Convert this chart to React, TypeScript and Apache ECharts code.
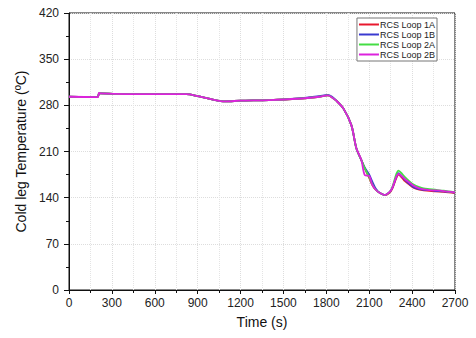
import React, { useEffect, useRef } from "react";
import * as echarts from "echarts";

const times = [0, 200, 210, 220, 400, 600, 820, 900, 1000, 1090, 1200, 1400, 1600, 1750, 1810, 1840, 1870, 1920, 1975, 2010, 2045, 2070, 2100, 2120, 2145, 2175, 2210, 2240, 2260, 2290, 2305, 2330, 2350, 2380, 2410, 2450, 2480, 2520, 2560, 2620, 2700];

const loop1A = [293, 292.5, 298, 298, 297, 297, 297, 294, 289, 286, 287, 288, 290, 293, 295, 292, 287, 275, 250, 215, 197, 184, 170, 160, 152, 147, 144, 147, 153, 170, 175, 170, 165, 160, 155, 152, 151, 150.5, 149.5, 149, 147];
const loop1B = [293, 292.5, 298, 298, 297, 297, 297, 294, 289, 286, 287, 288, 290.5, 294, 296, 293, 287, 275, 250, 215, 197, 185, 175, 165, 154, 147, 144, 148, 154, 172, 177, 172, 167, 161, 156, 153, 152, 151.5, 150.5, 149.5, 147.5];
const loop2A = [293, 292.5, 298, 298, 297, 297, 297, 294, 289, 286, 287, 288, 290, 293, 295, 292, 287, 275, 250, 215, 197, 184, 171, 161, 152, 147, 144, 148, 155, 176, 181, 176, 171, 165, 160, 156, 154, 153, 152, 150.5, 148];
const loop2B = [293, 292.5, 299, 298, 297, 297, 297, 294, 289, 286, 287, 288, 290, 293, 295, 292, 287, 275, 250, 215, 197, 174, 173, 160, 152, 147, 144, 148, 154, 172, 176, 172, 168, 163, 158, 154, 152.5, 151.5, 151, 150, 148];

const seriesNames = ["RCS Loop 1A", "RCS Loop 1B", "RCS Loop 2A", "RCS Loop 2B"];
const seriesValues = [loop1A, loop1B, loop2A, loop2B];
const seriesColors = ["#e8182e", "#3a3ad0", "#44dd44", "#dd22dd"];

export default function App() {
  const ref = useRef<HTMLDivElement>(null);
  useEffect(() => {
    if (!ref.current) return;
    const chart = echarts.init(ref.current, undefined, { renderer: "svg" });
    const font = "'Liberation Sans', Arial, sans-serif";
    chart.setOption({
      animation: false,
      backgroundColor: "#fff",
      textStyle: { fontFamily: font },
      grid: { left: 69, right: 21, top: 13, bottom: 48, show: true, borderColor: "#111", borderWidth: 1, backgroundColor: "transparent" },
      legend: {
        orient: "vertical",
        right: 39,
        top: 18,
        itemWidth: 20,
        itemHeight: 2,
        itemGap: 1,
        padding: [2, 2, 2, 2],
        borderColor: "#777",
        borderWidth: 1,
        backgroundColor: "#fff",
        icon: "rect",
        textStyle: { fontSize: 9, lineHeight: 9, color: "#222", padding: [0, 0, 0, -4], fontFamily: font },
        data: seriesNames,
      },
      xAxis: {
        type: "value",
        min: 0,
        max: 2700,
        interval: 300,
        name: "Time (s)",
        nameLocation: "middle",
        nameGap: 25,
        nameTextStyle: { fontSize: 14, color: "#111" },
        axisLine: { lineStyle: { color: "#111" } },
        axisTick: { show: true, inside: false, length: 4, lineStyle: { color: "#111" } },
        minorTick: { show: true, splitNumber: 2, length: 3, lineStyle: { color: "#111" } },
        axisLabel: { fontSize: 12, color: "#222", margin: 7, formatter: (v: number) => String(v) },
        splitLine: { show: true, lineStyle: { color: "#ddd", type: "dotted" } },
        minorSplitLine: { show: true, lineStyle: { color: "#e4e4e4", type: "dotted" } },
      },
      yAxis: {
        type: "value",
        min: 0,
        max: 420,
        interval: 70,
        name: "Cold leg Temperature (ºC)",
        nameLocation: "middle",
        nameGap: 39,
        nameTextStyle: { fontSize: 14, color: "#111" },
        axisLine: { show: true, lineStyle: { color: "#111" } },
        axisTick: { show: true, inside: false, length: 5, lineStyle: { color: "#111" } },
        minorTick: { show: true, splitNumber: 2, length: 3, lineStyle: { color: "#111" } },
        axisLabel: { fontSize: 12, color: "#222", margin: 10, formatter: (v: number) => String(v) },
        splitLine: { show: true, lineStyle: { color: "#ddd", type: "dotted" } },
      },
      series: seriesNames.map((name, i) => ({
        name,
        type: "line",
        showSymbol: false,
        symbol: "none",
        smooth: 0.3,
        color: seriesColors[i],
        lineStyle: { width: 1.8, color: seriesColors[i] },
        data: times.map((t, j) => [t, seriesValues[i][j]]),
      })),
    });
    return () => chart.dispose();
  }, []);
  return <div ref={ref} style={{ position: "fixed", left: 0, top: 0, width: 476, height: 338 }} />;
}
